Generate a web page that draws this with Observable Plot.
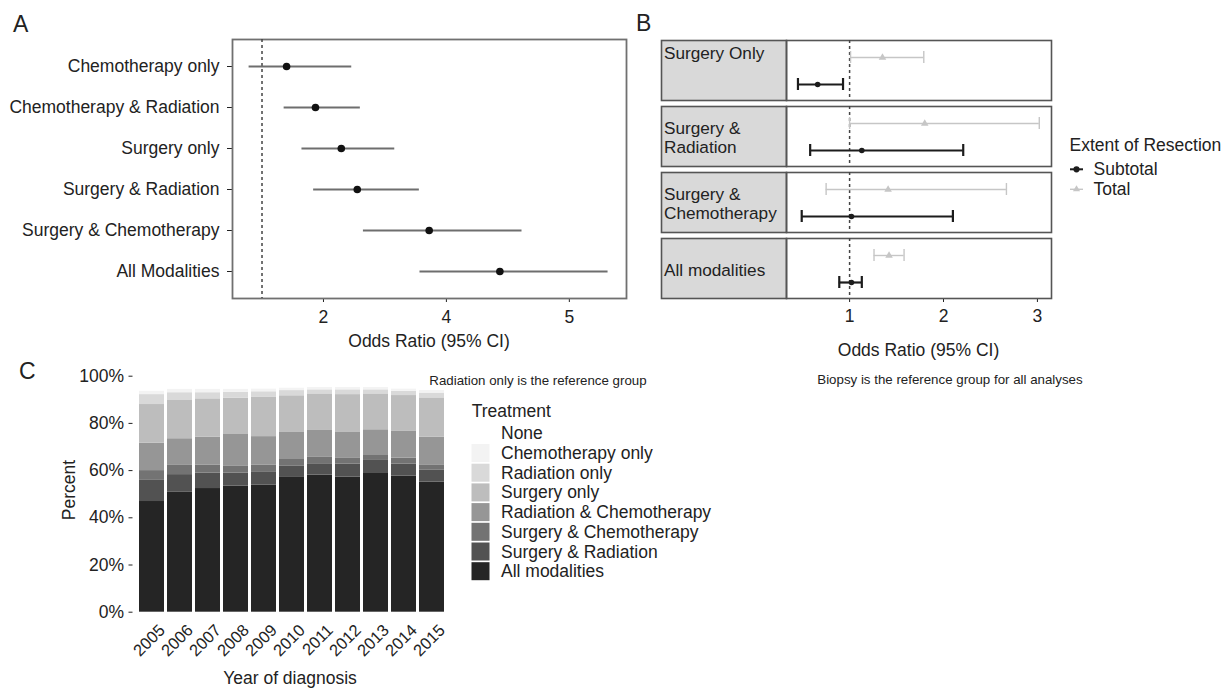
<!DOCTYPE html>
<html><head><meta charset="utf-8">
<script src="https://cdn.jsdelivr.net/npm/d3@7"></script>
<script src="https://cdn.jsdelivr.net/npm/@observablehq/plot@0.6"></script>
<style>
html,body{margin:0;padding:0;background:#fff;}
#root{position:relative;width:1224px;height:690px;overflow:hidden;font-family:"Liberation Sans",Arial,Helvetica,sans-serif;color:#222;background:#fff;}
.abs{position:absolute;}
</style></head><body><div id="root"></div>
<script>
// ---------- Panel A data ----------
const aCategories = ["Chemotherapy only","Chemotherapy & Radiation","Surgery only","Surgery & Radiation","Surgery & Chemotherapy","All Modalities"];
const aOR    = [1.40, 1.87, 2.29, 2.55, 3.72, 4.87];
const aLower = [0.79, 1.36, 1.65, 1.84, 2.65, 3.57];
const aUpper = [2.46, 2.60, 3.16, 3.56, 5.23, 6.63];
const aTicks = [2, 4, 6];
const aTickLabels = ["2", "4", "5"];
const aReference = [1];

// ---------- Panel B data ----------
const bCategories = ["Surgery Only","Surgery & Radiation","Surgery & Chemotherapy","All modalities"];
const bStripLabels = ["Surgery Only","Surgery &\nRadiation","Surgery &\nChemotherapy","All modalities"];
const bExtents = ["Total","Subtotal"];
const bSubtotalOR    = [0.66, 1.13, 1.02, 1.02];
const bSubtotalLower = [0.45, 0.58, 0.49, 0.89];
const bSubtotalUpper = [0.93, 2.21, 2.10, 1.13];
const bTotalOR    = [1.35, 1.80, 1.41, 1.42];
const bTotalLower = [1.01, 1.00, 0.75, 1.26];
const bTotalUpper = [1.79, 3.02, 2.67, 1.58];
const bTicks = [1, 2, 3];
const bTickLabels = ["1", "2", "3"];
const bReference = [1];
const bLegendItems = ["Subtotal","Total"];

// ---------- Panel C data ----------
const years = ["2005","2006","2007","2008","2009","2010","2011","2012","2013","2014","2015"];
const treatments = ["None","Chemotherapy only","Radiation only","Surgery only","Radiation & Chemotherapy","Surgery & Chemotherapy","Surgery & Radiation","All modalities"];
const cAllModalities = [46.9, 50.8, 52.4, 53.4, 53.8, 57.1, 58.1, 57.2, 59.1, 57.7, 55.1];
const cSurgRad       = [ 9.2,  7.5,  6.5,  5.5,  5.7,  4.9,  4.8,  5.5,  5.2,  5.1,  5.2];
const cSurgChemo     = [ 3.9,  3.9,  3.5,  3.1,  2.9,  2.7,  2.7,  2.7,  2.1,  2.5,  1.9];
const cRadChemo      = [11.6, 11.3, 11.8, 13.3, 12.0, 11.7, 11.4, 11.0, 10.9, 11.3, 12.0];
const cSurgOnly      = [16.4, 16.2, 16.2, 15.4, 16.6, 15.3, 15.5, 15.8, 15.2, 15.2, 16.6];
const cRadOnly       = [ 4.2,  3.3,  2.6,  2.5,  2.4,  2.2,  1.7,  2.0,  1.7,  1.8,  2.0];
const cChemoOnly     = [ 1.5,  1.5,  1.5,  1.3,  1.2,  1.1,  1.0,  1.0,  1.0,  1.0,  1.2];
const cNone          = [ 6.3,  5.5,  5.5,  5.5,  5.4,  5.0,  4.8,  4.8,  4.8,  5.4,  6.0];
const cTicks = [0, 20, 40, 60, 80, 100];
const greys = ["#ffffff","#f3f3f3","#d9d9d9","#bdbdbd","#969696","#737373","#525252","#252525"];

// ---------- build tables ----------
const aRows = aCategories.map((name, i) => ({name, or: aOR[i], lo: aLower[i], hi: aUpper[i]}));
const bRows = [];
bCategories.forEach((name, i) => {
  bRows.push({name, extent: "Total", or: bTotalOR[i], lo: bTotalLower[i], hi: bTotalUpper[i]});
  bRows.push({name, extent: "Subtotal", or: bSubtotalOR[i], lo: bSubtotalLower[i], hi: bSubtotalUpper[i]});
});
const stripRows = bCategories.map((name, i) => ({name, label: bStripLabels[i]}));
const cSeries = [
  ["All modalities", cAllModalities],
  ["Surgery & Radiation", cSurgRad],
  ["Surgery & Chemotherapy", cSurgChemo],
  ["Radiation & Chemotherapy", cRadChemo],
  ["Surgery only", cSurgOnly],
  ["Radiation only", cRadOnly],
  ["Chemotherapy only", cChemoOnly],
  ["None", cNone]
];
const cRows = [];
years.forEach((year, j) => cSeries.forEach(([treatment, arr]) => cRows.push({year, treatment, pct: arr[j]})));

const FONT = '"Liberation Sans", Arial, Helvetica, sans-serif';
const baseStyle = (size) => ({fontFamily: FONT, fontSize: size, color: "#222", background: "transparent", overflow: "visible", maxWidth: "none"});
const root = document.getElementById("root");
function place(node, left, top) {
  const d = document.createElement("div");
  d.className = "abs";
  d.style.left = left + "px"; d.style.top = top + "px";
  d.appendChild(node); root.appendChild(d);
}

// ---------- Panel A ----------
const plotA = Plot.plot({
  width: 640, height: 340,
  marginLeft: 232, marginRight: 14, marginTop: 39, marginBottom: 42,
  style: baseStyle("17.5px"),
  x: {domain: [0.52, 6.93], ticks: aTicks, tickFormat: (d, i) => aTickLabels[i], tickSize: 4, tickPadding: 8, label: null},
  y: {type: "point", domain: aCategories, padding: 0.6, tickSize: 5, tickPadding: 8, label: null},
  marks: [
    Plot.frame({stroke: "#707070", strokeWidth: 1.8}),
    Plot.ruleX(aReference, {stroke: "#444", strokeDasharray: "3,3", strokeWidth: 1.5}),
    Plot.ruleY(aRows, {y: "name", x1: "lo", x2: "hi", stroke: "#6e6e6e", strokeWidth: 2.2}),
    Plot.dot(aRows, {x: "or", y: "name", r: 3.8, fill: "#111"})
  ]
});
place(plotA, 0, 0);

// ---------- Panel B strips ----------
const fyOpts = {domain: bCategories, paddingInner: 0.09, paddingOuter: 0, axis: null, label: null};
const plotStrip = Plot.plot({
  width: 137, height: 340,
  marginLeft: 11, marginRight: 1, marginTop: 39, marginBottom: 41,
  style: baseStyle("17.2px"),
  facet: {data: stripRows, y: "name"},
  fy: fyOpts,
  x: {domain: [0, 1], axis: null},
  marks: [
    Plot.frame({fill: "#d9d9d9", stroke: "#555", strokeWidth: 1.6}),
    Plot.text(stripRows, {filter: d => d.name !== "Surgery Only", text: "label", frameAnchor: "left", dx: 2.5, dy: 1, lineHeight: 1.12, fill: "#222"}),
    Plot.text(stripRows, {filter: d => d.name === "Surgery Only", text: "label", frameAnchor: "top-left", dx: 2.5, dy: 4.5, lineHeight: 1.12, fill: "#222"})
  ]
});
place(plotStrip, 650, 0);

// ---------- Panel B data ----------
const plotB = Plot.plot({
  width: 275, height: 340,
  marginLeft: 1, marginRight: 9, marginTop: 39, marginBottom: 41,
  style: baseStyle("17.5px"),
  facet: {data: bRows, y: "name"},
  fy: fyOpts,
  x: {domain: [0.328, 3.15], ticks: bTicks, tickFormat: (d, i) => bTickLabels[i], tickSize: 4, tickPadding: 7, label: null},
  y: {type: "band", domain: bExtents, paddingInner: 0.565, paddingOuter: 0.3825, axis: null},
  color: {domain: bLegendItems, range: ["#1c1c1c", "#c6c6c6"]},
  symbol: {domain: bLegendItems, range: ["circle", "triangle"]},
  marks: [
    Plot.frame({stroke: "#555", strokeWidth: 1.6}),
    Plot.ruleX(bReference, {stroke: "#444", strokeDasharray: "3,3", strokeWidth: 1.5}),
    Plot.ruleY(bRows, {filter: d => d.extent === "Total", y: "extent", x1: "lo", x2: "hi", stroke: "extent", strokeWidth: 1.4}),
    Plot.ruleY(bRows, {filter: d => d.extent === "Subtotal", y: "extent", x1: "lo", x2: "hi", stroke: "extent", strokeWidth: 2.2}),
    Plot.tickX(bRows, {filter: d => d.extent === "Total", x: "lo", y: "extent", stroke: "extent", strokeWidth: 1.4}),
    Plot.tickX(bRows, {filter: d => d.extent === "Total", x: "hi", y: "extent", stroke: "extent", strokeWidth: 1.4}),
    Plot.tickX(bRows, {filter: d => d.extent === "Subtotal", x: "lo", y: "extent", stroke: "extent", strokeWidth: 2.2}),
    Plot.tickX(bRows, {filter: d => d.extent === "Subtotal", x: "hi", y: "extent", stroke: "extent", strokeWidth: 2.2}),
    Plot.dot(bRows, {x: "or", y: "extent", fill: "extent", symbol: "extent", r: 2.8})
  ]
});
place(plotB, 785, 0);

// ---------- Panel C ----------
const plotC = Plot.plot({
  width: 470, height: 330,
  marginLeft: 132.5, marginRight: 19.5, marginTop: 15.7, marginBottom: 78.3,
  style: baseStyle("17.5px"),
  x: {type: "band", domain: years, paddingInner: 0.1, paddingOuter: 0.05, axis: null},
  y: {domain: [0, 100], ticks: cTicks, tickFormat: d => d + "%", tickSize: 4, tickPadding: 5, label: null},
  color: {domain: treatments, range: greys},
  marks: [
    Plot.barY(cRows, Plot.stackY({x: "year", y: "pct", fill: "treatment", z: "treatment"})),
    Plot.text(years, {x: d => d, text: d => d, frameAnchor: "bottom", lineAnchor: "bottom", rotate: -45, textAnchor: "end", dx: 14, dy: 19, fontSize: 16.5, fill: "#222"})
  ]
});
place(plotC, 0, 360);

// ---------- free text, legends ----------
const ov = d3.select(root).append("svg")
  .attr("class", "abs").attr("width", 1224).attr("height", 690)
  .style("left", "0px").style("top", "0px").style("pointer-events", "none")
  .style("font-family", FONT).style("fill", "#222");
function txt(x, y, s, size, anchor = "start", rot = 0) {
  const t = ov.append("text").attr("x", x).attr("y", y).attr("font-size", size)
    .attr("text-anchor", anchor).text(s);
  if (rot) t.attr("transform", `rotate(${rot},${x},${y})`);
  return t;
}
txt(13, 31.5, "A", 23);
txt(636, 31, "B", 23);
txt(19, 379, "C", 23);
txt(429, 347, "Odds Ratio (95% CI)", 17.5, "middle");
txt(918.5, 355.5, "Odds Ratio (95% CI)", 17.5, "middle");
txt(429.3, 384.8, "Radiation only is the reference group", 13.3);
txt(817.3, 384, "Biopsy is the reference group for all analyses", 13.3);
txt(75.4, 490, "Percent", 17.5, "middle", -90);
txt(290, 683.5, "Year of diagnosis", 17.5, "middle");

// legend B
txt(1069.5, 151, "Extent of Resection", 17.5);
const bLegColors = {Subtotal: "#1c1c1c", Total: "#c6c6c6"};
bLegendItems.forEach((k, i) => {
  const cy = 169.3 + i * 20;
  ov.append("line").attr("x1", 1070).attr("x2", 1083).attr("y1", cy).attr("y2", cy)
    .attr("stroke", bLegColors[k]).attr("stroke-width", k === "Subtotal" ? 2 : 1.4);
  ov.append("path").attr("transform", `translate(1076.5,${cy})`)
    .attr("d", d3.symbol(k === "Subtotal" ? d3.symbolCircle : d3.symbolTriangle, k === "Subtotal" ? 30 : 22)())
    .attr("fill", bLegColors[k]);
  txt(1093.5, cy + 6, k, 17.5);
});

// legend C
txt(471.7, 416.5, "Treatment", 17.5);
treatments.forEach((k, i) => {
  const cy = 433.3 + i * 19.7;
  ov.append("rect").attr("x", 471.5).attr("y", cy - 9).attr("width", 18).attr("height", 18)
    .attr("fill", greys[i]);
  txt(501, cy + 6, k, 17.5);
});
</script></body></html>
